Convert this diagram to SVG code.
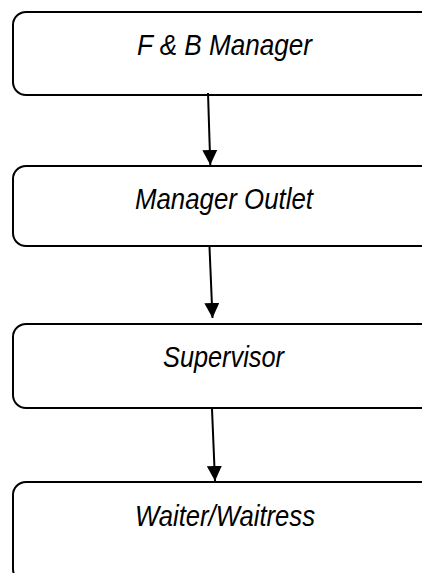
<svg xmlns="http://www.w3.org/2000/svg" width="422" height="573" viewBox="0 0 422 573">
  <style>
    .box { fill: #ffffff; stroke: #000000; stroke-width: 2; }
    .label { font-family: "Liberation Sans", Arial, sans-serif; font-style: italic; font-size: 30px; fill: #000000; text-anchor: middle; }
    .link { stroke: #000000; stroke-width: 2; fill: none; marker-end: url(#arrow); }
  </style>
  <defs>
    <marker id="arrow" markerWidth="15" markerHeight="15" refX="15" refY="7.5" orient="auto" markerUnits="userSpaceOnUse">
      <path d="M0,0 L15,7.5 L0,15 Z" fill="#000000"/>
    </marker>
  </defs>

  <g id="node-fb-manager">
    <rect class="box" x="13" y="12" width="430" height="83" rx="13" ry="13"/>
    <text class="label" x="224.5" y="55" textLength="175" lengthAdjust="spacingAndGlyphs">F &amp; B Manager</text>
  </g>

  <g id="node-manager-outlet">
    <rect class="box" x="13" y="166" width="430" height="80" rx="13" ry="13"/>
    <text class="label" x="224" y="209" textLength="178" lengthAdjust="spacingAndGlyphs">Manager Outlet</text>
  </g>

  <g id="node-supervisor">
    <rect class="box" x="13" y="324" width="430" height="84" rx="13" ry="13"/>
    <text class="label" x="223.5" y="367" textLength="121" lengthAdjust="spacingAndGlyphs">Supervisor</text>
  </g>

  <g id="node-waiter">
    <rect class="box" x="13" y="482" width="430" height="100" rx="13" ry="13"/>
    <text class="label" x="225" y="526" textLength="180" lengthAdjust="spacingAndGlyphs">Waiter/Waitress</text>
  </g>

  <g id="connectors">
    <line class="link" x1="208" y1="93" x2="210.3" y2="165"/>
    <line class="link" x1="209.5" y1="247" x2="212.5" y2="318"/>
    <line class="link" x1="212" y1="409" x2="215" y2="481"/>
  </g>
</svg>
